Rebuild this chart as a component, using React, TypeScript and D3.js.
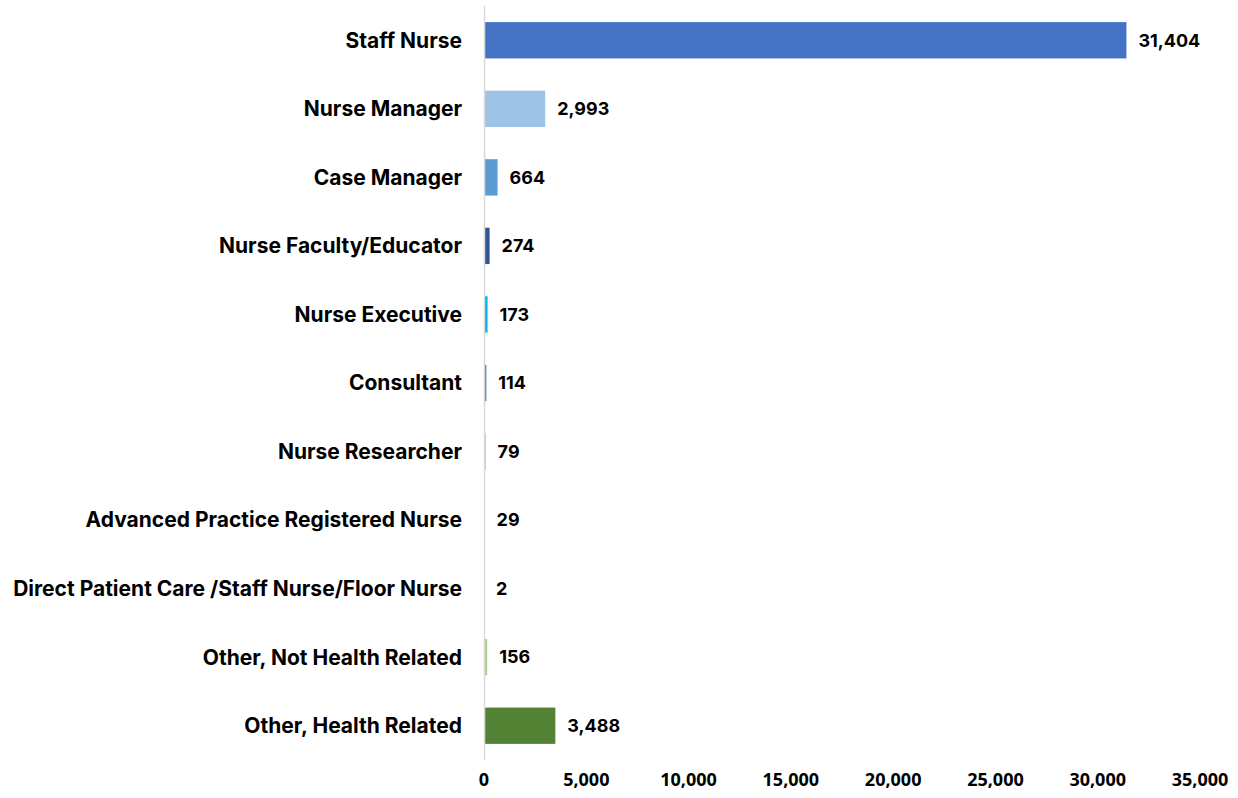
import React, { useEffect, useRef } from 'react';
import * as d3 from 'd3';

const categories = [
  'Staff Nurse',
  'Nurse Manager',
  'Case Manager',
  'Nurse Faculty/Educator',
  'Nurse Executive',
  'Consultant',
  'Nurse Researcher',
  'Advanced Practice Registered Nurse',
  'Direct Patient Care /Staff Nurse/Floor Nurse',
  'Other, Not Health Related',
  'Other, Health Related',
];
const values = [31404, 2993, 664, 274, 173, 114, 79, 29, 2, 156, 3488];
const barColors = [
  '#4472C4', '#9DC3E6', '#5B9BD5', '#2F5597', '#00B0F0', '#4472C4',
  '#8FAADC', '#4472C4', '#4472C4', '#A9D18E', '#548235',
];
const xTicks = [0, 5000, 10000, 15000, 20000, 25000, 30000, 35000];

export default function App() {
  const ref = useRef<SVGSVGElement>(null);

  useEffect(() => {
    if (!ref.current) return;
    const svg = d3.select(ref.current);
    svg.selectAll('*').remove();

    const margin = { top: 6, right: 38, bottom: 38, left: 484 };
    const width = 1238 - margin.left - margin.right;
    const height = 798 - margin.top - margin.bottom;

    const x = d3.scaleLinear().domain([0, 35000]).range([0, width]);
    const y = d3.scaleBand().domain(categories).range([0, height]).paddingInner(0.47).paddingOuter(0.235);

    const g = svg.append('g').attr('transform', `translate(${margin.left},${margin.top})`);

    // bars
    g.selectAll('rect.bar')
      .data(values)
      .enter()
      .append('rect')
      .attr('class', 'bar')
      .attr('x', 0)
      .attr('y', (_, i) => y(categories[i])!)
      .attr('width', d => x(d))
      .attr('height', y.bandwidth())
      .attr('fill', (_, i) => barColors[i]);

    // vertical axis line
    g.append('line')
      .attr('x1', 0.5).attr('x2', 0.5)
      .attr('y1', 0).attr('y2', height)
      .attr('stroke', '#d9d9d9')
      .attr('stroke-width', 1.5);

    // category labels
    g.selectAll('text.cat')
      .data(categories)
      .enter()
      .append('text')
      .attr('class', 'cat')
      .attr('x', -22)
      .attr('y', d => y(d)! + y.bandwidth() / 2)
      .attr('dy', '0.35em')
      .attr('text-anchor', 'end')
      .style('font-family', 'Inter, "Noto Sans", sans-serif')
      .style('font-weight', 700)
      .style('font-size', '21px')
      .attr('fill', '#000')
      .text(d => d);

    // value labels
    g.selectAll('text.val')
      .data(values)
      .enter()
      .append('text')
      .attr('class', 'val')
      .attr('x', d => x(d) + 12)
      .attr('y', (_, i) => y(categories[i])! + y.bandwidth() / 2)
      .attr('dy', '0.35em')
      .style('font-family', 'Inter, "Noto Sans", sans-serif')
      .style('font-weight', 700)
      .style('font-size', '18px')
      .attr('fill', '#000')
      .text(d => d3.format(',')(d));

    // x tick labels
    g.selectAll('text.tick')
      .data(xTicks)
      .enter()
      .append('text')
      .attr('class', 'tick')
      .attr('x', d => x(d))
      .attr('y', height + 26)
      .attr('text-anchor', 'middle')
      .style('font-family', '"Open Sans", "Liberation Sans", sans-serif')
      .style('font-weight', 700)
      .style('font-size', '18px')
      .attr('fill', '#000')
      .text(d => d3.format(',')(d));
  }, []);

  return (
    <svg ref={ref} width={1238} height={798}
      style={{ position: 'absolute', left: 0, top: 0, background: '#fff' }} />
  );
}
